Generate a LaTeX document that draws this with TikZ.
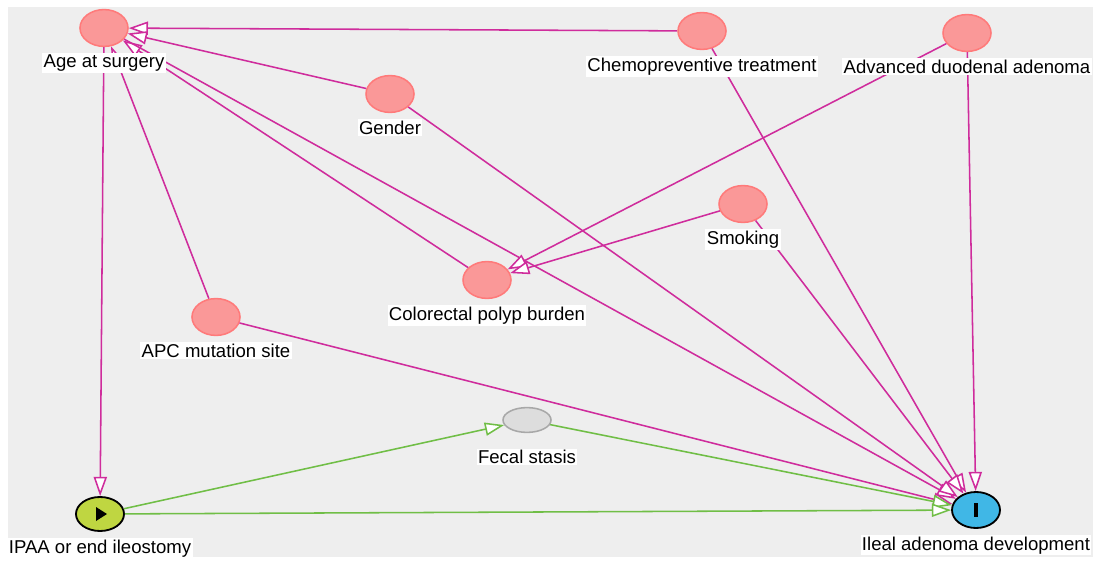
\documentclass[tikz,border=0pt]{standalone}
\usepackage{fontspec}
\setmainfont{Liberation Sans}
\usetikzlibrary{arrows.meta,positioning,shapes.geometric}
\definecolor{bgcol}{RGB}{238,238,238}
\definecolor{biascol}{RGB}{207,44,156}
\definecolor{causalcol}{RGB}{112,190,70}
\definecolor{advfill}{RGB}{250,152,152}
\definecolor{advline}{RGB}{255,122,122}
\definecolor{latfill}{RGB}{221,221,221}
\definecolor{latline}{RGB}{168,168,168}
\definecolor{expofill}{RGB}{191,214,65}
\definecolor{outcfill}{RGB}{64,183,230}

\begin{document}
\begin{tikzpicture}[x=0.025cm, y=-0.025cm,
  var/.style={ellipse, draw=advline, fill=advfill, line width=1.1pt,
    minimum width=1.2cm, minimum height=0.92cm, inner sep=0pt},
  latent/.style={var, draw=latline, fill=latfill, minimum height=0.62cm},
  expo/.style={var, draw=black, fill=expofill, line width=1.3pt, minimum height=0.85cm},
  outc/.style={var, draw=black, fill=outcfill, line width=1.3pt, minimum height=0.9cm},
  lbl/.style={fill=white, inner sep=1pt, font=\fontsize{13.2}{15}\selectfont},
  bias/.style={draw=biascol, line width=1.1pt,
    -{Triangle[length=0.48cm, width=0.33cm, fill=white]}},
  causal/.style={bias, draw=causalcol}]
  \useasboundingbox (0,0) rectangle (1098,563);
  \fill[bgcol] (8,7) rectangle (1093,557);

  % 変数
  \node[var] (age) at (104,28) {};
  \node[var] (chemo) at (702,31) {};
  \node[var] (duod) at (967,33) {};
  \node[var] (gender) at (390,94) {};
  \node[var] (smoke) at (743,204) {};
  \node[var] (polyp) at (487,280) {};
  \node[var] (apc) at (216,317) {};
  \node[latent] (fecal) at (527,420) {};
  \node[expo] (ipaa) at (100,514) {};
  \node[outc] (ileal) at (976,510) {};
  \fill (ipaa.center) ++(-4,-7) -- ++(11,7) -- ++(-11,7) -- cycle;
  \fill (ileal.center) ++(-2,-7) rectangle ++(4,14);

  % 矢印
  \draw[bias] (chemo) -- (age);
  \draw[bias] (gender) -- (age);
  \draw[bias] (polyp) -- (age);
  \draw[bias] (apc) -- (age);
  \draw[bias] (age) -- (ipaa);
  \draw[bias] (age) -- (ileal);
  \draw[bias] (chemo) -- (ileal);
  \draw[bias] (duod) -- (polyp);
  \draw[bias] (duod) -- (ileal);
  \draw[bias] (gender) -- (ileal);
  \draw[bias] (smoke) -- (polyp);
  \draw[bias] (smoke) -- (ileal);
  \draw[bias] (apc) -- (ileal);
  \draw[causal] (ipaa) -- (fecal);
  \draw[causal] (fecal) -- (ileal);
  \draw[causal] (ipaa) -- (ileal);

  % ラベル
  \node[lbl, below=0.15cm of age] (age-l) {Age at surgery};
  \node[lbl, below=0.15cm of chemo] (chemo-l) {Chemopreventive treatment};
  \node[lbl, below=0.15cm of duod] (duod-l) {Advanced duodenal adenoma};
  \node[lbl, below=0.15cm of gender] (gender-l) {Gender};
  \node[lbl, below=0.15cm of smoke] (smoke-l) {Smoking};
  \node[lbl, below=0.15cm of polyp] (polyp-l) {Colorectal polyp burden};
  \node[lbl, below=0.15cm of apc] (apc-l) {APC mutation site};
  \node[lbl, below=0.38cm of fecal] (fecal-l) {Fecal stasis};
  \node[lbl, below=0.15cm of ipaa] (ipaa-l) {IPAA or end ileostomy};
  \node[lbl, below=0.15cm of ileal] (ileal-l) {Ileal adenoma development};
\end{tikzpicture}
\end{document}
